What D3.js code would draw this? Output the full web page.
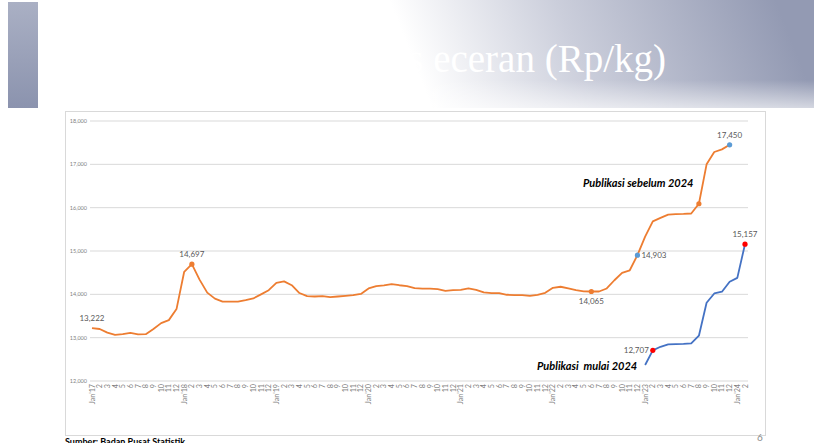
<!DOCTYPE html>
<html>
<head>
<meta charset="utf-8">
<script src="https://cdn.jsdelivr.net/npm/d3@7"></script>
<style>
body { margin: 0; background: #fff; overflow: hidden; }
text { font-family: Lato, "Liberation Sans", sans-serif; }
</style>
</head>
<body>
<script>
var years = ["17", "18", "19", "20", "21", "22", "23", "24"];
var monthNums = ["2", "3", "4", "5", "6", "7", "8", "9", "10", "11", "12"];
// categories: Jan'17 .. Feb'24
var categories = [];
years.forEach(function (yy) {
    categories.push("Jan'" + yy);
    var n = yy === "24" ? 1 : 11;
    for (var k = 0; k < n; k++) categories.push(monthNums[k]);
});

// publikasi sebelum 2024, Jan'17 .. Dec'23
var oldSeries = [
    13222, 13200, 13115, 13065, 13080, 13110, 13075, 13080, 13200, 13335, 13405, 13660,
    14520, 14697, 14340, 14040, 13900, 13830, 13830, 13830, 13865, 13905, 14000, 14095,
    14265, 14300, 14210, 14030, 13960, 13950, 13960, 13935, 13950, 13965, 13980, 14010,
    14135, 14190, 14205, 14235, 14210, 14190, 14145, 14130, 14130, 14120, 14080, 14095,
    14105, 14135, 14105, 14045, 14030, 14030, 13990, 13980, 13980, 13965, 13990, 14035,
    14150, 14175, 14135, 14095, 14070, 14065, 14065, 14135, 14325, 14495, 14555, 14903,
    15330, 15685, 15765, 15840, 15850, 15855, 15865, 16090, 17000, 17285, 17345, 17450
];
// publikasi mulai 2024, Jan'23 .. Feb'24
var newStart = 72;
var newSeries = [12370, 12707, 12790, 12845, 12852, 12855, 12868, 13045, 13805, 14020, 14060, 14290, 14380, 15157];

var yTicks = [12000, 13000, 14000, 15000, 16000, 17000, 18000];

// highlighted points: [series, index, colour, label, label position]
var marks = [
    ["old", 0, null, "13,222", "above"],
    ["old", 13, "#ED7D31", "14,697", "above"],
    ["old", 65, "#ED7D31", "14,065", "below"],
    ["old", 71, "#5B9BD5", "14,903", "right"],
    ["old", 79, "#ED7D31", null, null],
    ["old", 83, "#5B9BD5", "17,450", "above"],
    ["new", 73, "#FF0000", "12,707", "left"],
    ["new", 85, "#FF0000", "15,157", "above"]
];

var W = 814, H = 443;
var svg = d3.select("body").append("svg")
    .attr("width", W)
    .attr("height", H);

// header
var defs = svg.append("defs");
var hg = defs.append("linearGradient")
    .attr("id", "hdr")
    .attr("gradientUnits", "userSpaceOnUse")
    .attr("x1", 380).attr("y1", 110)
    .attr("x2", 760).attr("y2", -40);
hg.append("stop").attr("offset", 0).attr("stop-color", "#ffffff");
hg.append("stop").attr("offset", 0.12).attr("stop-color", "#ffffff");
hg.append("stop").attr("offset", 0.5).attr("stop-color", "#cbcedb");
hg.append("stop").attr("offset", 1).attr("stop-color", "#939ab3");
var fade = defs.append("linearGradient")
    .attr("id", "fade")
    .attr("x1", 0).attr("y1", 0).attr("x2", 0).attr("y2", 1);
fade.append("stop").attr("offset", 0).attr("stop-color", "#fff").attr("stop-opacity", 0);
fade.append("stop").attr("offset", 1).attr("stop-color", "#fff").attr("stop-opacity", 0.6);
var bg = defs.append("linearGradient")
    .attr("id", "bar")
    .attr("x1", 0).attr("y1", 0).attr("x2", 0).attr("y2", 1);
bg.append("stop").attr("offset", 0).attr("stop-color", "#aab0c4");
bg.append("stop").attr("offset", 1).attr("stop-color", "#8b93ae");

svg.append("rect")
    .attr("x", 0).attr("y", 0)
    .attr("width", W).attr("height", 108)
    .attr("fill", "url(#hdr)");
svg.append("rect")
    .attr("x", 0).attr("y", 80)
    .attr("width", W).attr("height", 28)
    .attr("fill", "url(#fade)");
svg.append("rect")
    .attr("x", 8).attr("y", 2)
    .attr("width", 30).attr("height", 106)
    .attr("fill", "url(#bar)");
svg.append("text")
    .attr("x", 666).attr("y", 72)
    .attr("text-anchor", "end")
    .style("font-family", "'Liberation Serif', serif")
    .style("font-size", "39px")
    .attr("fill", "#ffffff")
    .text("Harga rata-rata beras eceran (Rp/kg)");

// chart frame
svg.append("rect")
    .attr("x", 65.5).attr("y", 111.5)
    .attr("width", 700).attr("height", 324)
    .attr("fill", "#fff")
    .attr("stroke", "#d9d9d9");

var x = d3.scalePoint()
    .domain(d3.range(categories.length))
    .range([92, 745]);
var y = d3.scaleLinear()
    .domain([12000, 18000])
    .range([381, 121]);

var plot = svg.append("g");

// gridlines
plot.append("g").selectAll("line")
    .data(yTicks)
    .enter().append("line")
    .attr("x1", 90).attr("x2", 748)
    .attr("y1", function (d) { return y(d); })
    .attr("y2", function (d) { return y(d); })
    .attr("stroke", "#d9d9d9")
    .attr("stroke-width", 1);

plot.append("g").selectAll("text")
    .data(yTicks)
    .enter().append("text")
    .attr("x", 87)
    .attr("y", function (d) { return y(d) + 2; })
    .attr("text-anchor", "end")
    .style("font-size", "5.5px")
    .attr("fill", "#7f7f7f")
    .text(d3.format(","));

// x labels, rotated
plot.append("g").selectAll("text")
    .data(categories)
    .enter().append("text")
    .attr("transform", function (d, i) { return "translate(" + (x(i) + 2.5) + ",384) rotate(-90)"; })
    .attr("text-anchor", "end")
    .style("font-size", "7.2px")
    .attr("fill", "#7f7f7f")
    .text(function (d) { return d; });

var line = d3.line()
    .x(function (d) { return x(d.i); })
    .y(function (d) { return y(d.v); });

var oldPts = oldSeries.map(function (v, i) { return { i: i, v: v }; });
var newPts = newSeries.map(function (v, i) { return { i: i + newStart, v: v }; });

plot.append("path")
    .datum(oldPts)
    .attr("d", line)
    .attr("fill", "none")
    .attr("stroke", "#ED7D31")
    .attr("stroke-width", 1.8)
    .attr("stroke-linejoin", "round");
plot.append("path")
    .datum(newPts)
    .attr("d", line)
    .attr("fill", "none")
    .attr("stroke", "#4472C4")
    .attr("stroke-width", 1.8)
    .attr("stroke-linejoin", "round");

function valueOf(m) {
    return m[0] === "old" ? oldSeries[m[1]] : newSeries[m[1] - newStart];
}

plot.append("g").selectAll("circle")
    .data(marks.filter(function (m) { return m[2]; }))
    .enter().append("circle")
    .attr("cx", function (m) { return x(m[1]); })
    .attr("cy", function (m) { return y(valueOf(m)); })
    .attr("r", 2.6)
    .attr("fill", function (m) { return m[2]; });

var lab = plot.append("g").selectAll("text")
    .data(marks.filter(function (m) { return m[3]; }))
    .enter().append("text")
    .style("font-size", "8px")
    .attr("fill", "#595959")
    .text(function (m) { return m[3]; });
lab.attr("x", function (m) {
        var cx = x(m[1]);
        if (m[4] === "right") return cx + 4;
        if (m[4] === "left") return cx - 4;
        return cx;
    })
    .attr("y", function (m) {
        var cy = y(valueOf(m));
        if (m[4] === "above") return cy - 7;
        if (m[4] === "below") return cy + 12;
        return cy + 3;
    })
    .attr("text-anchor", function (m) {
        if (m[4] === "right") return "start";
        if (m[4] === "left") return "end";
        return "middle";
    });

// annotations
plot.append("text")
    .attr("x", 583).attr("y", 187)
    .style("font-size", "11px")
    .style("font-weight", "bold")
    .style("font-style", "italic")
    .attr("fill", "#000")
    .text("Publikasi sebelum 2024");
plot.append("text")
    .attr("x", 537).attr("y", 370)
    .style("font-size", "11px")
    .style("font-weight", "bold")
    .style("font-style", "italic")
    .attr("fill", "#000")
    .attr("xml:space", "preserve")
    .text("Publikasi  mulai 2024");

// footer (cut at the page bottom, as in the slide)
svg.append("text")
    .attr("x", 65).attr("y", 445)
    .style("font-size", "9px")
    .style("font-weight", "bold")
    .attr("fill", "#000")
    .text("Sumber: Badan Pusat Statistik");
svg.append("text")
    .attr("x", 757).attr("y", 441)
    .style("font-size", "10px")
    .attr("fill", "#8c8c8c")
    .text("6");
</script>
</body>
</html>
